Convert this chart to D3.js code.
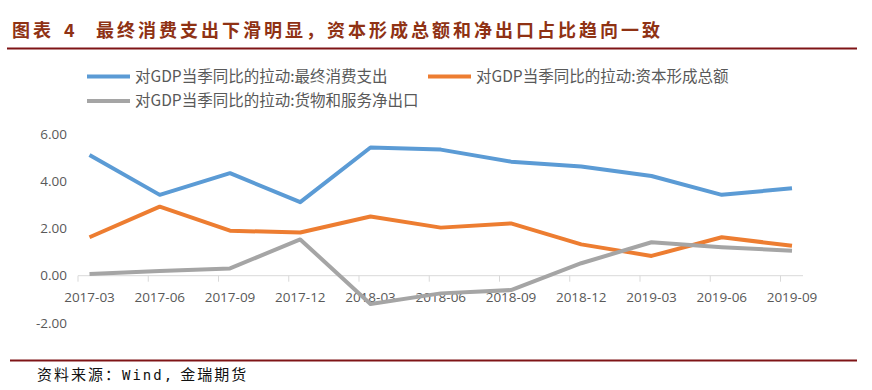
<!DOCTYPE html>
<html>
<head>
<meta charset="utf-8">
<script src="https://cdn.jsdelivr.net/npm/d3@7"></script>
<style>
  body { margin: 0; background: #fff; }
  svg { display: block; }
</style>
</head>
<body>
<svg width="872" height="390"></svg>
<script>
var quarters = ["2017-03","2017-06","2017-09","2017-12","2018-03","2018-06","2018-09","2018-12","2019-03","2019-06","2019-09"];
var consumption = [5.12, 3.43, 4.35, 3.12, 5.44, 5.35, 4.84, 4.63, 4.23, 3.43, 3.71];
var capital = [1.63, 2.93, 1.91, 1.83, 2.51, 2.04, 2.22, 1.33, 0.84, 1.63, 1.27];
var netExport = [0.07, 0.20, 0.31, 1.54, -1.20, -0.75, -0.61, 0.53, 1.42, 1.21, 1.06];
var yTicks = [-2, 0, 2, 4, 6];
var seriesNames = ["对GDP当季同比的拉动:最终消费支出", "对GDP当季同比的拉动:资本形成总额", "对GDP当季同比的拉动:货物和服务净出口"];
var colors = ["#5b9bd5", "#ed7d31", "#a5a5a5"];

var svg = d3.select("svg");
var darkRed = "#7f1416";
var titleColor = "#8f3214";
var cjk = "'Noto Sans CJK SC', sans-serif";
var latin = "'Open Sans', 'Liberation Sans', sans-serif";

// title
var title = svg.append("g")
  .attr("font-family", cjk)
  .attr("font-weight", "bold")
  .attr("font-size", "18px")
  .attr("fill", titleColor);
title.append("text").attr("x", 12).attr("y", 37).attr("letter-spacing", "3px").text("图表");
title.append("text").attr("x", 64).attr("y", 37).text("4");
title.append("text").attr("x", 96).attr("y", 37).attr("letter-spacing", "3px")
  .text("最终消费支出下滑明显，资本形成总额和净出口占比趋向一致");
svg.append("line").attr("x1", 7).attr("x2", 857).attr("y1", 48.5).attr("y2", 48.5)
  .attr("stroke", darkRed).attr("stroke-width", 2);

// scales
var x = d3.scaleLinear().domain([0, 10]).range([89.5, 792]);
var y = d3.scaleLinear().domain([0, 6]).range([275.7, 134.3]);

// y labels
svg.append("g").selectAll("text")
  .data(yTicks).enter().append("text")
  .attr("x", 67).attr("y", function(d){ return y(d); })
  .attr("dy", "0.35em")
  .attr("text-anchor", "end")
  .attr("font-family", latin)
  .attr("font-size", "13.5px")
  .attr("fill", "#595959")
  .text(function(d){ return d.toFixed(2); });

// x axis
var xaxis = svg.append("g");
xaxis.append("line")
  .attr("x1", x(0) - 11.5).attr("x2", 803)
  .attr("y1", y(0)).attr("y2", y(0))
  .attr("stroke", "#d9d9d9").attr("stroke-width", 1);
xaxis.selectAll(".tick")
  .data(quarters).enter().append("line")
  .attr("class", "tick")
  .attr("x1", function(d, i){ return x(i) - 11.5; })
  .attr("x2", function(d, i){ return x(i) - 11.5; })
  .attr("y1", y(0)).attr("y2", y(0) + 6)
  .attr("stroke", "#d9d9d9");

// lines
var line = d3.line()
  .x(function(d, i){ return x(i); })
  .y(function(d){ return y(d); });

[consumption, capital, netExport].forEach(function(s, k){
  svg.append("path")
    .datum(s)
    .attr("d", line)
    .attr("fill", "none")
    .attr("stroke", colors[k])
    .attr("stroke-width", 4)
    .attr("stroke-linejoin", "round");
});

// x labels (drawn after lines, as in the reference)
xaxis.selectAll(".lbl")
  .data(quarters).enter().append("text")
  .attr("class", "lbl")
  .attr("x", function(d, i){ return x(i); })
  .attr("y", 297)
  .attr("dy", "0.35em")
  .attr("text-anchor", "middle")
  .attr("font-family", latin)
  .attr("font-size", "13.5px")
  .attr("fill", "#595959")
  .text(function(d){ return d; });

// legend
var legendPos = [[87, 76.5], [428, 76.5], [87, 101]];
var legend = svg.append("g");
seriesNames.forEach(function(name, k){
  var p = legendPos[k];
  legend.append("line")
    .attr("x1", p[0]).attr("x2", p[0] + 43)
    .attr("y1", p[1]).attr("y2", p[1])
    .attr("stroke", colors[k]).attr("stroke-width", 4);
  legend.append("text")
    .attr("x", p[0] + 48).attr("y", p[1])
    .attr("dy", "0.35em")
    .attr("font-family", cjk)
    .attr("font-size", "15.5px")
    .attr("fill", "#595959")
    .text(name);
});

// footer
svg.append("line").attr("x1", 10).attr("x2", 857).attr("y1", 360.5).attr("y2", 360.5)
  .attr("stroke", darkRed).attr("stroke-width", 2);
var src = svg.append("text")
  .attr("x", 37).attr("y", 380)
  .attr("font-family", cjk)
  .attr("font-size", "15px")
  .attr("letter-spacing", "2px")
  .attr("fill", "#111");
src.append("tspan").text("资料来源：");
src.append("tspan").attr("font-family", "'DejaVu Sans Mono', monospace").attr("font-size", "14px").text("Wind,");
src.append("tspan").attr("dx", 6).text("金瑞期货");
</script>
</body>
</html>
